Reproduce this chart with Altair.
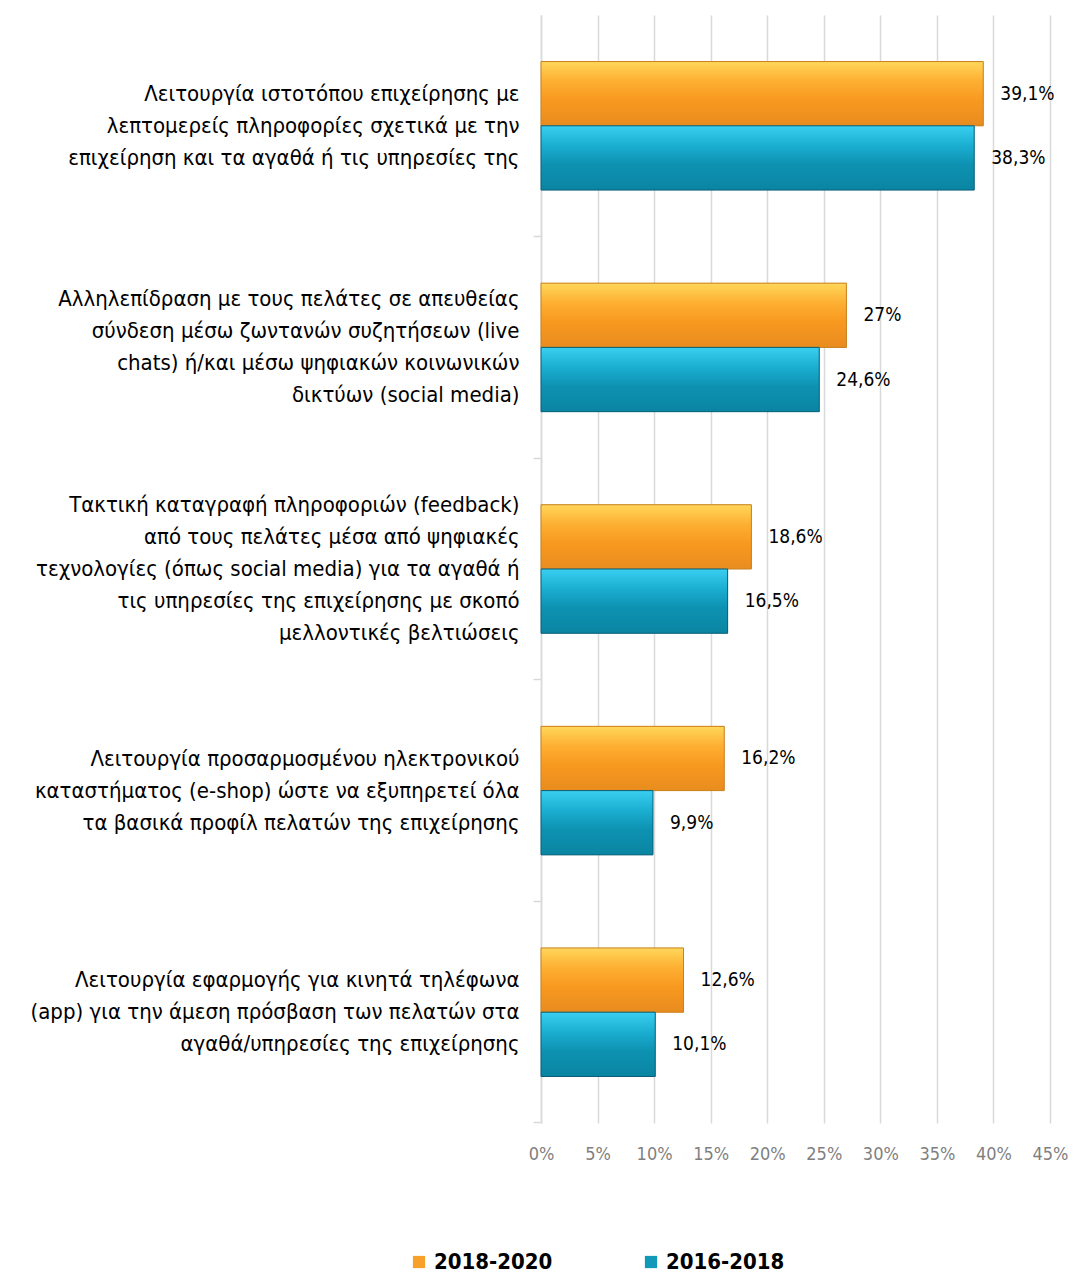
import altair as alt
import pandas as pd

categories = [
    "Λειτουργία ιστοτόπου επιχείρησης με|λεπτομερείς πληροφορίες σχετικά με την|επιχείρηση και τα αγαθά ή τις υπηρεσίες της",
    "Αλληλεπίδραση με τους πελάτες σε απευθείας|σύνδεση μέσω ζωντανών συζητήσεων (live|chats) ή/και μέσω ψηφιακών κοινωνικών|δικτύων (social media)",
    "Τακτική καταγραφή πληροφοριών (feedback)|από τους πελάτες μέσα από ψηφιακές|τεχνολογίες (όπως social media) για τα αγαθά ή|τις υπηρεσίες της επιχείρησης με σκοπό|μελλοντικές βελτιώσεις",
    "Λειτουργία προσαρμοσμένου ηλεκτρονικού|καταστήματος (e-shop) ώστε να εξυπηρετεί όλα|τα βασικά προφίλ πελατών της επιχείρησης",
    "Λειτουργία εφαρμογής για κινητά τηλέφωνα|(app) για την άμεση πρόσβαση των πελατών στα|αγαθά/υπηρεσίες της επιχείρησης",
]
series = ["2018-2020", "2016-2018"]
values_2018_2020 = [39.1, 27.0, 18.6, 16.2, 12.6]
values_2016_2018 = [38.3, 24.6, 16.5, 9.9, 10.1]
labels_2018_2020 = ["39,1%", "27%", "18,6%", "16,2%", "12,6%"]
labels_2016_2018 = ["38,3%", "24,6%", "16,5%", "9,9%", "10,1%"]
x_ticks = [0, 5, 10, 15, 20, 25, 30, 35, 40, 45]

rows = []
for i, c in enumerate(categories):
    rows.append({"cat": c, "series": series[0], "value": values_2018_2020[i], "label": labels_2018_2020[i]})
    rows.append({"cat": c, "series": series[1], "value": values_2016_2018[i], "label": labels_2016_2018[i]})
df = pd.DataFrame(rows)

FONT = "DejaVu Sans Condensed"

y_enc = alt.Y(
    "cat:N",
    sort=categories,
    scale=alt.Scale(paddingInner=0.42, paddingOuter=0.21),
    axis=alt.Axis(
        title=None,
        labelExpr="split(datum.label, '|')",
        labelOffset=alt.ExprRef(expr="-(length(split(datum.value, '|')) - 1) * 16"),
        labelFontSize=22,
        labelFont=FONT,
        labelColor="#000000",
        labelLineHeight=32,
        labelLimit=600,
        labelPadding=14,
        ticks=True,
        bandPosition=1.362,
        tickSize=8,
        tickColor="#D9D9D9",
        tickWidth=1.5,
        domain=True,
        domainColor="#D9D9D9",
        domainWidth=1.5,
        minExtent=533,
        maxExtent=533,
    ),
)
yoff = alt.YOffset("series:N", sort=series, scale=alt.Scale(paddingInner=0, paddingOuter=0))
x_enc = alt.X(
    "value:Q",
    scale=alt.Scale(domain=[0, 45], nice=False),
    axis=alt.Axis(
        title=None,
        values=x_ticks,
        labelExpr="datum.value + '%'",
        labelFontSize=18,
        labelFont=FONT,
        labelColor="#7F7F7F",
        labelPadding=22,
        labelOverlap=False,
        labelFlush=False,
        grid=True,
        gridColor="#D9D9D9",
        gridWidth=1.5,
        domain=False,
        ticks=False,
    ),
)

base = alt.Chart(df)

bars = base.mark_bar().encode(
    y=y_enc,
    yOffset=yoff,
    x=x_enc,
    color=alt.Color(
        "series:N",
        sort=series,
        scale=alt.Scale(domain=series, range=["#F7A12A", "#1399B8"]),
        legend=alt.Legend(
            title=None,
            orient="none",
            legendX=-133,
            legendY=1236,
            padding=0,
            direction="horizontal",
            symbolType="square",
            symbolSize=150,
            labelFontSize=22,
            labelFont=FONT,
            labelFontWeight="bold",
            labelColor="#000000",
            labelOffset=4,
            columnPadding=87,
        ),
    ),
)

orange_grad = alt.Gradient(
    gradient="linear", x1=0, x2=0, y1=0, y2=1,
    stops=[
        alt.GradientStop(offset=0, color="#FFD75A"),
        alt.GradientStop(offset=0.3, color="#FDB033"),
        alt.GradientStop(offset=0.6, color="#F8991F"),
        alt.GradientStop(offset=1, color="#E88C1F"),
    ],
)
blue_grad = alt.Gradient(
    gradient="linear", x1=0, x2=0, y1=0, y2=1,
    stops=[
        alt.GradientStop(offset=0, color="#3ACFF0"),
        alt.GradientStop(offset=0.3, color="#1BAFD2"),
        alt.GradientStop(offset=0.6, color="#0E92B2"),
        alt.GradientStop(offset=1, color="#0A85A2"),
    ],
)

bars_o = base.transform_filter(alt.datum.series == series[0]).mark_bar(
    fill=orange_grad, stroke="#C9801E", strokeWidth=1
).encode(y=y_enc, yOffset=yoff, x=x_enc)
bars_b = base.transform_filter(alt.datum.series == series[1]).mark_bar(
    fill=blue_grad, stroke="#0A5F78", strokeWidth=1
).encode(y=y_enc, yOffset=yoff, x=x_enc)

texts = base.mark_text(
    align="left", baseline="middle", dx=17, fontSize=19, font=FONT, color="#000000"
).encode(y=y_enc, yOffset=yoff, x=x_enc, text="label:N")

chart = (
    alt.layer(bars, bars_o, bars_b, texts)
    .properties(width=509, height=1108, padding={"left": 0, "top": 7, "right": 0, "bottom": 0})
    .configure_view(stroke=None)
)

chart.save("out.html", embed_options={"renderer": "svg", "actions": False})
